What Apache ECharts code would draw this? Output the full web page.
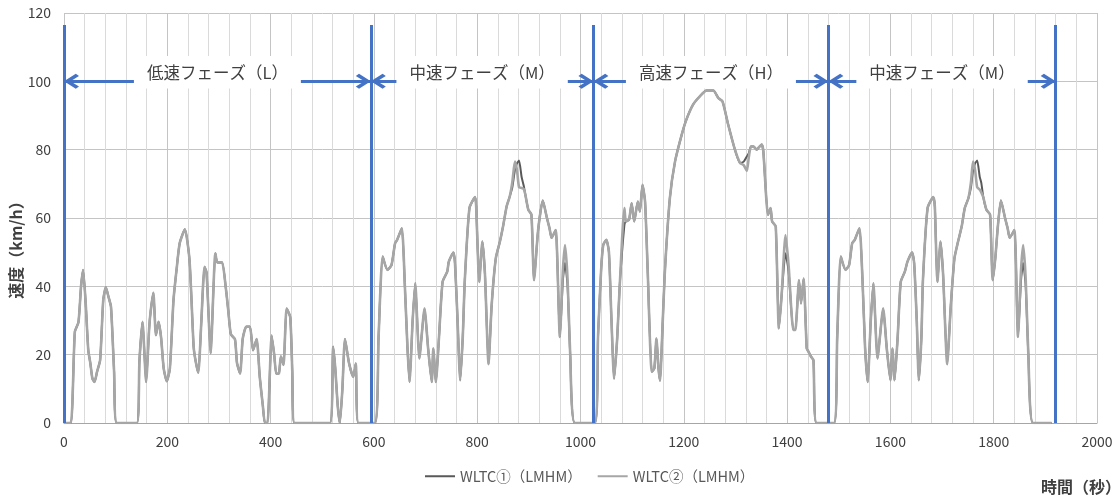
<!DOCTYPE html>
<html><head><meta charset="utf-8">
<script src="https://cdn.jsdelivr.net/npm/echarts@6/dist/echarts.min.js"></script>
<style>html,body{margin:0;padding:0;background:#fff}#c{width:1118px;height:501px}</style>
</head><body><div id="c"></div>
<script>
// time (s)
const timeSec = [
 0,13,21,28,33,37,42,47,51,55,59,64,70,76,81,86,91,97,102,141,
 146,152,159,165,168,173,178,183,188,193,199,205,212,218,224,234,243,251,255,260,
 266,272,276,284,293,297,306,313,318,323,331,335,341,346,353,360,366,373,379,385,
 389,394,402,407,411,416,420,425,431,438,442,446,515,521,525,530,534,539,544,552,
 560,565,570,602,
 609,617,626,634,641,645,654,660,665,669,675,680,688,698,705,712,715,720,726,733,
 742,745,754,757,762,767,772,776,785,796,798,804,810,815,822,828,836,844,850,857,
 863,868,873,877,881,886,890,893,899,905,910,918,927,935,940,944,952,960,966,970,
 975,980,989,1028,
 1034,1040,1044,1050,1055,1060,1065,1071,1076,1085,1088,1094,1099,1104,1111,1115,1120,1125,1130,1138,
 1143,1147,1151,1154,1158,1163,1173,1183,1196,1205,1218,1231,1244,1257,1267,1275,1286,1299,1309,1316,
 1322,1326,1330,1335,1341,1346,1351,1354,1363,1368,1371,1378,1384,1389,1397,1403,1412,1416,1423,1427,
 1432,1438,1441,1446,1451,1457,1491,
 1497,1504,1513,1520,1526,1531,1540,1546,1551,1556,1562,1567,1575,1586,1593,1600,1604,1608,1614,1620,
 1628,1633,1642,1646,1651,1655,1660,1663,1672,1683,1686,1691,1697,1702,1710,1717,1724,1731,1738,1744,
 1751,1756,1760,1764,1768,1773,1776,1780,1786,1793,1798,1803,1808,1814,1822,1827,1831,1840,1847,1853,
 1857,1862,1867,1876,1912
];
// WLTC① (LMHM) speed, km/h
const wltc1 = [
 0,0,26.7,29.5,40,44.8,35,21.3,17.5,13,12,15,18.5,36,39.7,37,34,15,0,0,
 18,29.6,12,28,33,38.1,25.7,29.6,25,16,12.2,16,36,45,52.6,56.7,47.7,22.3,18,14.7,
 30,45.7,44,20.4,49.7,47,47,39.9,33,26,24.5,17.5,14.5,24.6,28.2,28.2,21.3,24.6,13.5,5,
 0,0,25.6,20,14.4,14.5,19.5,17,33.5,31,15,0,0,22.3,16.4,5,0,10,24.6,17.4,
 13.5,17.4,0,0,
 25,48.7,44.8,46.2,52.6,53.6,57,39.9,22,12,30,40.9,18.9,33.5,21.8,12,21.8,12,25,41.3,
 44.3,47.2,49.9,46.8,30,12.5,25,41.8,62.9,66.1,63.4,41.3,53.1,43.6,17.2,34.5,48.2,53.1,57.5,63.4,
 66.3,69,74,76,76.8,72,69.5,67,62.4,61,41.8,56.5,65.1,60,57,54.2,56.5,25.2,42,46.8,
 40,20.3,0,0,
 25.7,45,52.1,53.6,50.1,30,13,24.7,40.4,58,59,59.5,64.3,59,64.8,61.9,69.7,64.8,45,15,
 16,24.7,16,12.4,25,43.3,65.8,76.5,84.4,88.8,93.2,95.6,97.3,97.3,95.1,94.1,87.3,80,76.1,76.5,
 78,79,80.9,80.9,80,80.8,81.5,79.5,60.9,62.9,59,57.5,27.7,36.5,49.7,44.3,27.2,27.2,41.8,35,
 42.3,21.8,21,19.5,18.4,0,0,
 25,48.7,44.8,46.2,52.6,53.6,57,41.8,22,12,30,40.9,18.9,33.5,21.8,12.5,21.8,12.5,25,41.3,
 44.3,47.2,49.9,46.8,30,12.5,25,41.8,62.9,66.1,63.4,41.3,53.1,43.6,17.2,34.5,48.2,53.1,57.5,62.9,
 65.8,69,74,76,76.8,72,70.3,66,62.4,61,41.8,48,57.5,65.1,60,57,54.2,56.5,25.2,42,
 46.8,40,20.3,0,0
];
// WLTC② (LMHM) speed, km/h
const wltc2 = [
 0,0,26.7,29.5,40,44.8,35,21.3,17.5,13,12,15,18.5,36,39.7,37,34,15,0,0,
 18,29.6,12,28,33,38.1,25.7,29.6,25,16,12.2,16,36,45,52.6,56.7,47.7,22.3,18,14.7,
 30,45.7,44,20.4,49.7,47,47,39.9,33,26,24.5,17.5,14.5,24.6,28.2,28.2,21.3,24.6,13.5,5,
 0,0,25.6,20,14.4,14.5,19.5,17,33.5,31,15,0,0,22.3,16.4,5,0,10,24.6,17.4,
 13.5,17.4,0,0,
 25,48.7,44.8,46.2,52.6,53.6,57,39.9,22,12,30,40.9,18.9,33.5,21.8,12,21.8,12,25,41.3,
 44.3,47.2,49.9,46.8,30,12.5,25,41.8,62.9,66.1,63.4,41.3,53.1,43.6,17.2,34.5,48.2,53.1,57.5,63.4,
 66.3,70.5,76.5,74,69,68.8,68.5,67,62.4,61,41.8,56.5,65.1,60,57,54.2,56.5,25.2,45,52.1,
 42,20.3,0,0,
 25.7,45,52.1,53.6,50.1,30,13,24.7,40.4,62.9,59,59.5,64.3,59,64.8,61.9,69.7,64.8,45,15,
 16,24.7,16,12.4,25,43.3,65.8,76.5,84.4,88.8,93.2,95.6,97.3,97.3,95.1,94.1,87.3,80,76.1,75.5,
 73.8,78,80.9,80.9,80,80.8,81.5,79.5,60.9,62.9,59,57.5,27.7,36.5,55,46,27.2,27.2,41.8,35,
 42.3,21.8,21,19.5,18.4,0,0,
 25,48.7,44.8,46.2,52.6,53.6,57,41.8,22,12,30,40.9,18.9,33.5,21.8,12.5,21.8,12.5,25,41.3,
 44.3,47.2,49.9,46.8,30,12.5,25,41.8,62.9,66.1,63.4,41.3,53.1,43.6,17.2,34.5,48.2,53.1,57.5,62.9,
 65.8,70.5,76.5,74,69,68.3,67.5,66,62.4,61,41.8,48,57.5,65.1,60,57,54.2,56.5,25.2,45,
 52.1,42,20.3,0,0
];
const phaseBounds = [0, 594, 1025, 1480, 1920];
const phaseNames = ['低速フェーズ（L）', '中速フェーズ（M）', '高速フェーズ（H）', '中速フェーズ（M）'];
const arrowLevel = 100;
const phaseLineTop = 116.5;
const seriesNames = ['WLTC①（LMHM）', 'WLTC②（LMHM）'];

const FONT = '"Noto Sans CJK JP", "Noto Sans", sans-serif';
const chevron = 'path://M10,0 L10.2,0 L10.1,0.2 Z M10,14 L20,25 L17,28 L10,20 L3,28 L0,25 Z';

const s1 = timeSec.map((t, i) => [t, wltc1[i]]);
const s2 = timeSec.map((t, i) => [t, wltc2[i]]);

const vLines = phaseBounds.map(t => [{ coord: [t, 0] }, { coord: [t, phaseLineTop] }]);
const arrows = phaseNames.map((n, i) => [
  { coord: [phaseBounds[i], arrowLevel], name: n },
  { coord: [phaseBounds[i + 1], arrowLevel] }
]);

const chart = echarts.init(document.getElementById('c'), null, { renderer: 'canvas' });
chart.setOption({
  animation: false,
  textStyle: { fontFamily: FONT },
  grid: { left: 64, right: 21, top: 13, bottom: 78, containLabel: false, outerBoundsMode: 'none' },
  legend: {
    data: seriesNames.map(n => ({ name: n, icon: 'rect' })),
    left: 420, top: 464,
    itemWidth: 30, itemHeight: 2, itemGap: 16,
    textStyle: { fontFamily: FONT, fontSize: 14.5, color: '#595959' }
  },
  xAxis: {
    type: 'value', min: 0, max: 2000, interval: 200,
    name: '時間（秒）', nameLocation: 'end', nameGap: 24,
    nameTextStyle: { fontFamily: FONT, fontSize: 16, fontWeight: 'bold', color: '#404040', align: 'right', verticalAlign: 'top', padding: [56, 0, 0, 0] },
    axisLine: { show: true, lineStyle: { color: '#a6a6a6', width: 1 } },
    axisTick: { show: false },
    axisLabel: { fontFamily: FONT, fontSize: 14, color: '#404040', margin: 12, formatter: v => String(v) },
    splitLine: { show: true, lineStyle: { color: '#c4c4c4', width: 1 } },
    minorTick: { show: false, splitNumber: 5 },
    minorSplitLine: { show: true, lineStyle: { color: '#dadada', width: 1 } }
  },
  yAxis: {
    type: 'value', min: 0, max: 120, interval: 20,
    name: '速度（km/h）', nameLocation: 'middle', nameGap: 40, nameRotate: 90, nameMoveOverlap: false,
    nameTextStyle: { fontFamily: FONT, fontSize: 16, fontWeight: 'bold', color: '#404040', padding: [0, 56, 0, 0] },
    axisLine: { show: false }, axisTick: { show: false },
    axisLabel: { fontFamily: FONT, fontSize: 14, color: '#404040', margin: 13 },
    splitLine: { show: true, lineStyle: { color: '#c4c4c4', width: 1 } }
  },
  series: [
    { name: seriesNames[0], type: 'line', data: s1, symbol: 'none', z: 3, smooth: 0.2,
      itemStyle: { color: '#595959' }, lineStyle: { color: '#595959', width: 2 } },
    { name: seriesNames[1], type: 'line', data: s2, symbol: 'none', z: 4, smooth: 0.2,
      itemStyle: { color: '#a6a6a6' }, lineStyle: { color: '#a6a6a6', width: 2.6 } },
    { name: 'phases', type: 'line', data: [], z: 6, silent: true,
      markLine: { silent: true, symbol: 'none', animation: false,
        lineStyle: { color: '#4472C4', width: 3, type: 'solid' },
        label: { show: false }, data: vLines } },
    { name: 'arrows', type: 'line', data: [], z: 7, silent: true,
      markLine: { silent: true, symbol: [chevron, chevron], symbolSize: [15, 30], animation: false,
        lineStyle: { color: '#4472C4', width: 3, type: 'solid' },
        label: { show: true, position: 'middle', distance: [0, 9], verticalAlign: 'middle', align: 'center',
          formatter: '{b}', fontFamily: FONT, fontSize: 16.5, color: '#404040',
          backgroundColor: '#ffffff', padding: [8, 13] },
        data: arrows } }
  ]
});
</script></body></html>
